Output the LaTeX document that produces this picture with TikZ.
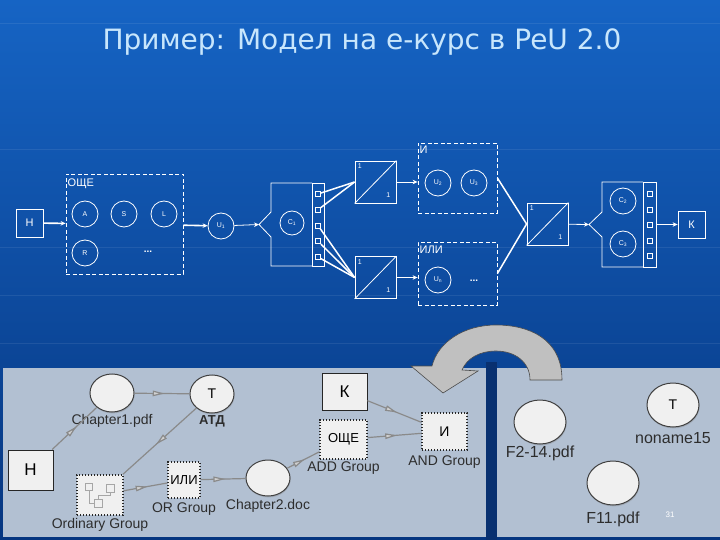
\documentclass[tikz,border=0pt]{standalone}
\usepackage{fontspec}
\setmainfont{Liberation Sans}
\newfontfamily\titlefont{DejaVu Sans}
\usetikzlibrary{arrows.meta,shapes.geometric,decorations.markings,shadows}

\definecolor{slidetop}{RGB}{22,100,196}
\definecolor{slidemid}{RGB}{18,86,174}
\definecolor{slidebot}{RGB}{6,54,128}
\definecolor{gapblue}{RGB}{8,48,112}
\definecolor{titleblue}{RGB}{200,230,252}
\definecolor{panel}{RGB}{178,192,210}
\definecolor{nodefill}{RGB}{240,240,240}
\definecolor{linkgray}{RGB}{138,138,138}
\definecolor{labelgray}{RGB}{45,45,45}
\definecolor{turngray}{RGB}{192,192,192}

\tikzset{
  wline/.style={draw=white, line width=0.8pt},
  warrow/.style={wline, -{Stealth[length=5pt,width=4.5pt]}},
  wbox/.style={wline, rectangle, inner sep=0pt, text=white},
  wtext/.style={text=white, inner sep=1pt, font=\fontsize{11}{13}\selectfont},
  wcirc/.style={wline, circle, minimum size=26pt, inner sep=0pt, text=white, font=\fontsize{7}{8}\selectfont},
  grpbox/.style={draw=white, dash pattern=on 4pt off 2.5pt, line width=0.8pt, rectangle, inner sep=0pt},
  switchbox/.style={wbox, minimum width=41pt, minimum height=42pt},
  one/.style={text=white, inner sep=0pt, font=\fontsize{7}{8}\selectfont},
  port/.style={wbox, minimum size=5pt},
  docnode/.style={ellipse, draw=black!75, line width=1pt, fill=nodefill, inner sep=0pt,
    minimum width=44pt, minimum height=38pt, font=\fontsize{14}{16}\selectfont,
    drop shadow={shadow xshift=0.6pt, shadow yshift=-1.4pt, opacity=0.35}},
  bigdoc/.style={docnode, minimum width=52pt, minimum height=44pt},
  grpnode/.style={rectangle, draw=black!85, line width=1.4pt, dash pattern=on 1.4pt off 1.6pt,
    fill=nodefill, inner sep=0pt, font=\fontsize{13}{15}\selectfont},
  endnode/.style={rectangle, draw=black!85, line width=1pt, fill=nodefill, inner sep=0pt,
    font=\fontsize{17}{19}\selectfont},
  lbl/.style={text=labelgray, inner sep=1pt, label distance=1pt, font=\fontsize{14}{16}\selectfont},
  biglbl/.style={lbl, font=\fontsize{16}{18}\selectfont},
  link/.style={draw=linkgray, line width=1.2pt, postaction={decorate},
    decoration={markings, mark=at position 0.55 with
      {\arrow{Triangle[length=12pt,width=5.5pt,color=linkgray,fill=black!18]}}}}
}

\begin{document}
\begin{tikzpicture}[x=1pt,y=-1pt]
  \useasboundingbox (0,0) rectangle (720,540);
  % slide background
  \shade[top color=slidetop, middle color=slidemid, bottom color=slidebot] (0,0) rectangle (720,540);
  \foreach \yy in {24,150,247,295,343}
    \draw[white, opacity=0.08, line width=1pt] (0,\yy) -- (720,\yy);

  \node[font={\titlefont\fontsize{28}{32}\selectfont}, text=titleblue] (title) at (362,42) {Пример: Модел на е-курс в PeU 2.0};

  % --- model ---
  \node[wbox, minimum width=27pt, minimum height=28pt, font=\fontsize{11}{13}\selectfont] (hin) at (29.5,223) {Н};
  \node[grpbox, minimum width=117pt, minimum height=100pt] (oce) at (124.5,224) {};
  \node[wtext, anchor=west] (ocelbl) at (66.5,184) {ОЩЕ};
  \node[wcirc] (a) at (85,214) {A};
  \node[wcirc] (s) at (124,214) {S};
  \node[wcirc] (l) at (164,214) {L};
  \node[wcirc] (r) at (85,253) {R};
  \node[wtext, font=\bfseries\fontsize{10}{12}\selectfont] (dotsa) at (148,252) {...};
  \node[wcirc] (u1) at (221,226) {U\textsubscript{1}};

  % C1 block
  \coordinate (c1in) at (259,224.5);
  \draw[wline] (312,183) -- (271,183) -- (271,212) -- (c1in) -- (271,237) -- (271,266) -- (312,266);
  \node[wbox, minimum width=12pt, minimum height=83pt] (c1strip) at (318,224.5) {};
  \node[wcirc, minimum size=24pt] (c1) at (292,223) {C\textsubscript{1}};
  \foreach \i in {1,...,5}
    \node[port] (p\i) at (318,{194+15.75*(\i-1)}) {};

  % switches
  \node[switchbox] (sw1) at (375.5,182) {};
  \node[switchbox] (sw2) at (375.5,277.5) {};
  \node[switchbox] (sw3) at (547.5,224) {};
  \foreach \sw in {sw1,sw2,sw3} {
    \draw[wline] (\sw.south west) -- (\sw.north east);
    \node[one, anchor=north west, xshift=3pt, yshift=-3pt] (\sw-a) at (\sw.north west) {1};
    \node[one, anchor=south east, xshift=-6pt, yshift=6pt] (\sw-b) at (\sw.south east) {1};
  }

  % И / ИЛИ
  \node[grpbox, minimum width=79pt, minimum height=70pt] (andgrp) at (457.5,178) {};
  \node[wtext, anchor=west] (andlbl) at (418.5,150) {И};
  \node[wcirc] (u2) at (438,183) {U\textsubscript{2}};
  \node[wcirc] (u3) at (474,183) {U\textsubscript{3}};
  \node[grpbox, minimum width=79pt, minimum height=63pt] (orgrp) at (457.5,273.5) {};
  \node[wtext, anchor=west] (orlbl) at (418.5,250) {ИЛИ};
  \node[wcirc] (un) at (438,280) {U\textsubscript{n}};
  \node[wtext, font=\bfseries\fontsize{10}{12}\selectfont] (dotsb) at (474,281) {...};

  % C2/C3 block
  \coordinate (c23in) at (589,224.5);
  \draw[wline] (643,182) -- (602,182) -- (602,212) -- (c23in) -- (602,237) -- (602,267) -- (643,267);
  \node[wbox, minimum width=13pt, minimum height=85pt] (c23strip) at (649.5,224.5) {};
  \node[wcirc] (c2) at (623,201) {C\textsubscript{2}};
  \node[wcirc] (c3) at (623,244) {C\textsubscript{3}};
  \foreach \i in {1,...,5}
    \node[port] (q\i) at (649.5,{194+15.5*(\i-1)}) {};
  \node[wbox, minimum width=27pt, minimum height=27pt, font=\fontsize{11}{13}\selectfont] (kout) at (691.5,224.5) {К};

  % connectors
  \draw[warrow, line width=1.6pt] (hin) -- (oce);
  \draw[warrow, line width=1.6pt] (oce) -- (u1);
  \draw[warrow] (u1) -- (c1in);
  \foreach \i in {1,2}
    \draw[wline, line width=1.5pt] (p\i) -- (sw1.west);
  \foreach \i in {3,4,5}
    \draw[wline, line width=1.5pt] (p\i) -- (sw2.west);
  \draw[warrow] (sw1.east) -- (sw1.east -| andgrp.west);
  \draw[warrow] (sw2.east) -- (sw2.east -| orgrp.west);
  \draw[wline, line width=1.5pt] (andgrp.east) -- (sw3.west);
  \draw[wline, line width=1.5pt] (orgrp.east) -- (sw3.west);
  \draw[warrow] (sw3) -- (c23in);
  \draw[warrow] (c23strip) -- (kout);

  % --- editor screenshot ---
  \fill[gapblue] (486,362) rectangle (497,540);
  \fill[panel] (3,368) rectangle (486,537);
  \fill[panel] (497,368) rectangle (720,537);

  % turn arrow
  \draw[fill=turngray, draw=black!70, line width=0.6pt]
    (562,380) .. controls (562,338) and (528,325) .. (496,325)
    .. controls (464,325) and (438,342) .. (432,366) -- (411,366) -- (443,393) -- (478,371) -- (462,370)
    .. controls (467,358) and (480,351) .. (496,351)
    .. controls (515,351) and (530,362) .. (530,380) -- cycle;

  \node[endnode, minimum width=45pt, minimum height=40pt] (hstart) at (30.5,470) {Н};
  \node[docnode, label={[lbl]below:Chapter1.pdf}] (ch1) at (112,393) {};
  \node[docnode, label={[lbl, font=\bfseries\fontsize{13}{15}\selectfont]below:АТД}] (atd) at (212,394) {T};
  \node[grpnode, minimum width=46pt, minimum height=40pt, label={[lbl]below:Ordinary Group}] (ordgrp) at (100,495) {};
  \node[grpnode, minimum width=32pt, minimum height=36pt, label={[lbl, label distance=3pt]below:OR Group}] (orgrp2) at (184,480) {ИЛИ};
  \node[docnode, minimum height=36pt, label={[lbl, label distance=2pt]below:Chapter2.doc}] (ch2) at (268,478) {};
  \node[grpnode, minimum width=47pt, minimum height=39pt, label={[lbl]below:ADD Group}] (addgrp) at (343.5,439.5) {ОЩЕ};
  \node[endnode, minimum width=45pt, minimum height=37pt] (kend) at (344.5,391.5) {К};
  \node[grpnode, minimum width=45pt, minimum height=37pt, font=\fontsize{14}{16}\selectfont, label={[lbl, label distance=4pt]below:AND Group}] (andgrp2) at (444.5,431.5) {И};

  % tree icon
  \begin{scope}[draw=black!35, line width=0.7pt]
    \draw (85.5,483) rectangle (92.5,490);
    \draw (106,484) rectangle (114,492);
    \draw (94,499) rectangle (102,507);
    \draw (89,490) -- (89,503) -- (94,503);
    \draw (110,492) -- (110,495) -- (98,495) -- (98,499);
  \end{scope}

  \draw[link] (hstart) -- (ch1);
  \draw[link] (ch1) -- (atd);
  \draw[link] (atd) -- (ordgrp);
  \draw[link] (ordgrp) -- (orgrp2);
  \draw[link] (orgrp2) -- (ch2);
  \draw[link] (ch2) -- (addgrp);
  \draw[link] (kend) -- (andgrp2);
  \draw[link] (addgrp) -- (andgrp2);

  \node[bigdoc, label={[biglbl, label distance=0pt]below:F2-14.pdf}] (f214) at (540,422) {};
  \node[bigdoc, label={[biglbl, label distance=4pt]below:noname15}] (nn15) at (673,405) {T};
  \node[bigdoc, label={[biglbl, label distance=5pt]below:F11.pdf}] (f11) at (613,483) {};
  \node[text=white, font=\fontsize{8}{9}\selectfont] (pagenum) at (670,515) {31};
\end{tikzpicture}
\end{document}
